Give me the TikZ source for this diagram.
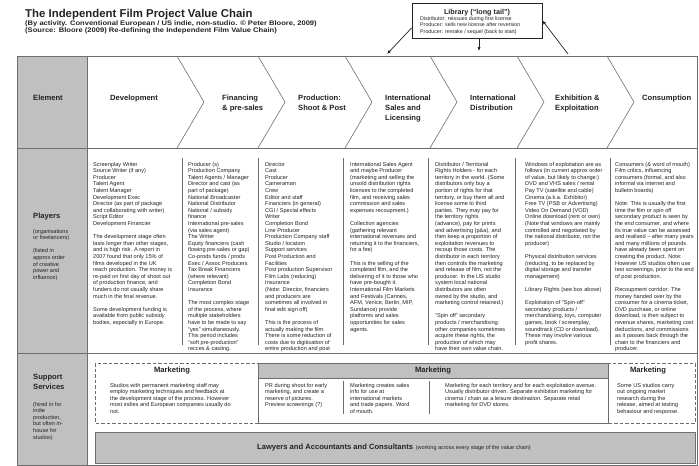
\documentclass[tikz,border=0pt]{standalone}
\usepackage{fontspec}
\usepackage{graphicx}
\setmainfont{Liberation Sans}
\usetikzlibrary{arrows.meta}
\definecolor{cgray}{RGB}{192,192,192}
\definecolor{lgray}{RGB}{110,110,110}
\definecolor{ink}{RGB}{35,35,35}
\newcommand{\smalltxt}{\fontsize{5.6}{6.6}\selectfont}
\newcommand{\headtxt}{\bfseries\fontsize{7.6}{10}\selectfont}
\newcommand{\libtxt}{\fontsize{5.3}{6.5}\selectfont}
\newcommand{\gp}{\\[6.6pt]}
\begin{document}
\begin{tikzpicture}[x=1pt,y=-1pt,
  ptext/.style={anchor=north west, align=left, inner sep=0pt, font=\smalltxt, text=ink},
  headlab/.style={anchor=north west, align=left, inner sep=0pt, font=\headtxt, text=ink},
  tabline/.style={draw=lgray, line width=1pt},
  sepline/.style={draw=lgray, line width=0.8pt},
  chevline/.style={draw=lgray, line width=0.6pt},
  arr/.style={draw=ink, line width=0.7pt, -{Latex[length=4pt,width=3.2pt]}},
  dashbox/.style={draw=lgray, line width=0.8pt, dash pattern=on 3.5pt off 2pt},
  solidbox/.style={draw=lgray, line width=1pt}
]
\fill[white] (0,0) rectangle (699,466);
\useasboundingbox (0,0) rectangle (699,466);

% title
\node[anchor=west, inner sep=0pt, font=\bfseries\fontsize{11.4}{13}\selectfont, text=ink] (title) at (25,15) {The Independent Film Project Value Chain};
\node[anchor=west, inner sep=0pt, font=\bfseries\fontsize{6.6}{7}\selectfont, text=ink] (sub1) at (25,24) {\scalebox{1.15}[1]{(By activity. Conventional European / US indie, non-studio. \textcopyright{} Peter Bloore, 2009)}};
\node[anchor=west, inner sep=0pt, font=\bfseries\fontsize{6.6}{7}\selectfont, text=ink] (sub2) at (25,31) {\scalebox{1.15}[1]{(Source: Bloore (2009) Re-defining the Independent Film Value Chain)}};

% library box
\node[draw=ink, line width=0.8pt, fill=white, minimum width=130pt, minimum height=35pt, inner sep=0pt] (lib) at (477,20.5) {};
\node[inner sep=0pt, font=\bfseries\fontsize{7.2}{8}\selectfont, text=ink] (libtitle) at (477,12.5) {Library (``long tail'')};
\node[anchor=north west, align=left, inner sep=0pt, font=\libtxt, text=ink] (libtext) at (420,16.3) {Distributor: reissues during first license\\Producer: sells new license after reversion\\Producer: remake / sequel (back to start)};

% table
\fill[cgray] (17,56) rectangle (87,465);
\draw[tabline] (17,56) rectangle (697,465);
\draw[tabline] (87,56) -- (87,465);
\draw[tabline] (17,148) -- (697,148);
\draw[tabline] (17,353) -- (697,353);

% library connectors
\coordinate (t1) at (387,54);
\coordinate (t2) at (479,51);
\coordinate (t3) at (568,54);
\draw[arr] ([yshift=-7.5pt]lib.west) -- (t1);
\draw[arr] ([xshift=2pt]lib.south) -- (t2);
\draw[arr] (t3) -- (lib.east);

% chevrons
\foreach \cx in {177,258,345,430,517,607}{
  \draw[chevline] (\cx,56) -- (\cx+27,102) -- (\cx,148);
}

% element column labels
\node[anchor=west, inner sep=0pt, font=\headtxt, text=ink] (elem) at (33,98) {Element};
\node[headlab] (play) at (33,212.5) {Players};
\node[ptext] (playnote) at (33,228.8) {(organisations\\or freelancers)\gp(listed in\\approx order\\of creative\\power and\\influence)};
\node[headlab] (supp) at (33,373.5) {Support\\Services};
\node[ptext] (suppnote) at (33,401.8) {(hired in for\\indie\\production,\\but often in-\\house for\\studios)};

% chevron labels
\node[headlab] (c1) at (110,94.5) {Development};
\node[headlab] (c2) at (222,94.5) {Financing\\\& pre-sales};
\node[headlab] (c3) at (298,94.5) {Production:\\Shoot \& Post};
\node[headlab] (c4) at (385,94.5) {International\\Sales and\\Licensing};
\node[headlab] (c5) at (470,94.5) {International\\Distribution};
\node[headlab] (c6) at (555,94.5) {Exhibition \&\\Exploitation};
\node[headlab] (c7) at (642,94.5) {Consumption};

% player column separators
\foreach \sx in {182,258,343,428,515,610}{
  \draw[sepline] (\sx,158) -- (\sx,345);
}

% players text
\node[ptext] (p1) at (93,161.8) {Screenplay Writer\\Source Writer (if any)\\Producer\\Talent Agent\\Talent Manager\\Development Exec\\Director (as part of package\\and collaborating with writer)\\Script Editor\\Development Financier\gp The development stage often\\lasts longer than other stages,\\and is high risk. A report in\\2007 found that only 15\% of\\films developed in the UK\\reach production. The money is\\re-paid on first day of shoot out\\of production finance, and\\funders do not usually share\\much in the final revenue.\gp Some development funding is\\available from public subsidy\\bodies, especially in Europe.};

\node[ptext] (p2) at (188,161.8) {Producer (s)\\Production Company\\Talent Agents / Manager\\Director and cast (as\\part of package)\\National Broadcaster\\National Distributor\\National / subsidy\\finance\\International pre-sales\\(via sales agent)\\The Writer\\Equity financiers (cash\\flowing pre-sales or gap)\\Co-prods funds / prods\\Exec / Assoc Producers\\Tax Break Financiers\\(where relevant)\\Completion Bond\\Insurance\gp The most complex stage\\of the process, where\\multiple stakeholders\\have to be made to say\\``yes'' simultaneously.\\This period includes\\``soft pre-production''\\recces \& casting.};

\node[ptext] (p3) at (265,161.8) {Director\\Cast\\Producer\\Cameraman\\Crew\\Editor and staff\\Financiers (in general)\\CGI / Special effects\\Writer\\Completion Bond\\Line Producer\\Production Company staff\\Studio / location\\Support services\\Post Production and\\Facilities\\Post production Supervisor\\Film Labs (reducing)\\Insurance\\(Note: Director, financiers\\and producers are\\sometimes all involved in\\final edit sign off)\gp This is the process of\\actually making the film.\\There is some reduction of\\costs due to digitisation of\\entire production and post};

\node[ptext] (p4) at (350,161.8) {International Sales Agent\\and maybe Producer\\(marketing and selling the\\unsold distribution rights\\licenses to the completed\\film, and receiving sales\\commission and sales\\expenses recoupment.)\gp Collection agencies\\(gathering relevant\\international revenues and\\returning it to the financiers,\\for a fee)\gp This is the selling of the\\completed film, and the\\delivering of it to those who\\have pre-bought it.\\International Film Markets\\and Festivals (Cannes,\\AFM, Venice, Berlin, MIP,\\Sundance) provide\\platforms and sales\\opportunities for sales\\agents.};

\node[ptext] (p5) at (435,161.8) {Distributor / Territorial\\Rights Holders - for each\\territory in the world. (Some\\distributors only buy a\\portion of rights for that\\territory, or buy them all and\\license some to third\\parties. They may pay for\\the territory rights\\(advance), pay for prints\\and advertising (p\&a), and\\then keep a proportion of\\exploitation revenues to\\recoup those costs. The\\distributor in each territory\\then controls the marketing\\and release of film, not the\\producer. In the US studio\\system local national\\distributors are often\\owned by the studio, and\\marketing control retained.)\gp ``Spin off'' secondary\\products / merchandising:\\other companies sometimes\\acquire these rights, the\\production of which may\\have their own value chain.};

\node[ptext] (p6) at (525,161.8) {Windows of exploitation are as\\follows (in current approx order\\of value, but likely to change:)\\DVD and VHS sales / rental\\Pay TV (satellite and cable)\\Cinema (a.k.a. Exhibitor)\\Free TV (PSB or Advertising)\\Video On Demand (VOD)\\Online download (rent or own)\\(Note that windows are mainly\\controlled and negotiated by\\the national distributor, not the\\producer)\gp Physical distribution services\\(reducing, to be replaced by\\digital storage and transfer\\management)\gp Library Rights (see box above)\gp Exploitation of ``Spin-off''\\secondary products /\\merchandising, toys, computer\\games, book / screenplay,\\soundtrack (CD or download).\\These may involve various\\profit shares.};

\node[ptext] (p7) at (615,161.8) {Consumers (\& word of mouth)\\Film critics, influencing\\consumers (formal, and also\\informal via internet and\\bulletin boards)\gp Note: This is usually the first\\time the film or spin off\\secondary product is seen by\\the end consumer, and where\\its true value can be assessed\\and realised -- after many years\\and many millions of pounds\\have already been spent on\\creating the product. Note:\\However US studios often use\\test screenings, prior to the end\\of post production.\gp Recoupment corridor: The\\money handed over by the\\consumer for a cinema ticket,\\DVD purchase, or online\\download, is then subject to\\revenue shares, marketing cost\\deductions, and commissions\\as it passes back through the\\chain to the financiers and\\producer.};

% support services
\draw[dashbox, fill=white] (95,363) rectangle (258,423);
\draw[dashbox, fill=white] (608,363) rectangle (695,423);
\fill[white] (258,363) rectangle (608,423);
\fill[cgray] (258,363) rectangle (608,378);
\draw[solidbox] (258,363) rectangle (608,423);
\draw[sepline] (258,378) -- (608,378);
\draw[sepline] (343,381) -- (343,414);
\draw[sepline] (429,381) -- (429,414);

\node[inner sep=0pt, font=\headtxt, text=ink] (m1) at (172,371) {Marketing};
\node[inner sep=0pt, font=\headtxt, text=ink] (m2) at (433,371) {Marketing};
\node[inner sep=0pt, font=\headtxt, text=ink] (m3) at (648,371) {Marketing};

\node[ptext] (s1) at (110,382.8) {Studios with permanent marketing staff may\\employ marketing techniques and feedback at\\the development stage of the process. However\\most indies and European companies usually do\\not.};
\node[ptext] (s2) at (265,382.8) {PR during shoot for early\\marketing, and create a\\reserve of pictures.\\Preview screenings (?)};
\node[ptext] (s3) at (350,382.8) {Marketing creates sales\\info for use at\\international markets\\and trade papers. Word\\of mouth.};
\node[ptext] (s4) at (445,382.8) {Marketing for each territory and for each exploitation avenue.\\Usually distributor driven. Separate exhibition marketing for\\cinema / chain as a leisure destination. Separate retail\\marketing for DVD stores.};
\node[ptext] (s5) at (617,382.8) {Some US studios carry\\out ongoing market\\research during the\\release, aimed at testing\\behaviour and response.};

% lawyers
\draw[solidbox, fill=cgray] (95,432) rectangle (695,463);
\node[anchor=west, inner sep=0pt, text=ink] (law) at (257,448) {{\headtxt Lawyers and Accountants and Consultants} {\fontsize{5.5}{6}\selectfont (working across every stage of the value chain)}};

\end{tikzpicture}
\end{document}
